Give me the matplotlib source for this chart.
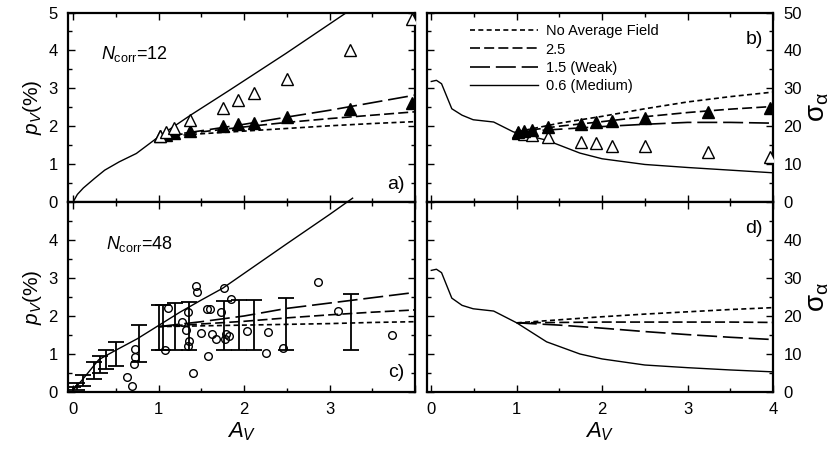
import numpy as np
import matplotlib
matplotlib.use("Agg")
import matplotlib.pyplot as plt
from matplotlib.ticker import MultipleLocator

plt.rcParams['font.family'] = ['Liberation Sans', 'DejaVu Sans']
plt.rcParams['mathtext.fontset'] = 'custom'
plt.rcParams['mathtext.rm'] = 'Liberation Sans'
plt.rcParams['mathtext.it'] = 'Liberation Sans:italic'

# ---- common model x grid (A_V) for the field-strength curves starting at A_V=1
x_model = [1.0, 1.5, 2.0, 2.5, 3.0, 3.5, 4.0]

# ---- panel a) N_corr=12, p_V(%)
a_solid_x = [0, 0.05, 0.12, 0.25, 0.37, 0.54, 0.74, 1.0, 1.38, 1.83, 2.49, 3.2]
a_solid_y = [0, 0.2, 0.37, 0.62, 0.84, 1.06, 1.28, 1.72, 2.3, 2.95, 3.92, 5.0]
a_noavg = [1.72, 1.80, 1.87, 1.94, 2.01, 2.07, 2.12]
a_25 = [1.72, 1.85, 1.98, 2.10, 2.20, 2.29, 2.38]
a_15 = [1.72, 1.88, 2.05, 2.24, 2.42, 2.62, 2.82]
tri_x = [1.02, 1.09, 1.18, 1.37, 1.75, 1.93, 2.12, 2.50, 3.24, 3.97]
a_open = [1.74, 1.85, 1.96, 2.16, 2.49, 2.70, 2.88, 3.25, 4.02, 4.84]
a_fill = [1.74, 1.78, 1.81, 1.87, 2.00, 2.05, 2.09, 2.25, 2.45, 2.60]

# ---- panel b) N_corr=12, sigma_alpha
b_solid_x = [0, 0.06, 0.12, 0.2, 0.24, 0.36, 0.49, 0.73, 0.96, 1.35, 1.74, 2.0, 2.5, 3.0, 3.5, 4.0]
b_solid_y = [31.8, 32.1, 31.2, 26.8, 24.6, 22.9, 21.7, 21.1, 18.5, 16.3, 12.9, 11.4, 9.9, 9.1, 8.4, 7.7]
b_noavg = [18.5, 20.8, 22.6, 24.6, 26.4, 27.8, 29.0]
b_25 = [18.5, 20.0, 21.2, 22.5, 23.6, 24.5, 25.2]
b_15 = [18.5, 19.2, 19.9, 20.5, 21.0, 21.0, 20.8]
b_open = [18.3, 18.0, 17.6, 17.2, 15.9, 15.6, 14.8, 14.8, 13.2, 11.9]
b_fill = [18.5, 18.8, 19.0, 19.8, 20.7, 21.2, 21.5, 22.1, 23.8, 24.9]

# ---- panel c) N_corr=48, p_V(%)
c_solid_x = [0, 0.1, 0.3, 0.5, 0.75, 1.0, 1.25, 1.5, 1.75, 2.0, 2.5, 3.0, 3.27]
c_solid_y = [0.05, 0.3, 0.85, 1.1, 1.4, 1.75, 2.1, 2.42, 2.73, 3.12, 3.9, 4.67, 5.1]
c_noavg = [1.72, 1.74, 1.76, 1.78, 1.80, 1.83, 1.85]
c_25 = [1.72, 1.79, 1.86, 1.95, 2.03, 2.10, 2.16]
c_15 = [1.72, 1.85, 2.0, 2.2, 2.34, 2.48, 2.62]
obs_x = [1.44, 1.45, 1.76, 2.86, 1.11, 1.34, 1.57, 1.60, 1.73, 1.85, 3.10, 1.27,
         1.32, 1.50, 1.63, 1.67, 1.79, 1.82, 1.78, 2.03, 2.28, 3.73, 1.36, 1.34,
         1.07, 2.45, 2.26, 1.58, 1.40, 0.72, 0.72, 0.71, 0.63, 0.69]
obs_p = [2.80, 2.62, 2.73, 2.89, 2.22, 2.11, 2.18, 2.18, 2.11, 2.44, 2.13, 1.85,
         1.63, 1.54, 1.52, 1.39, 1.52, 1.47, 1.39, 1.60, 1.57, 1.50, 1.35, 1.22,
         1.10, 1.17, 1.02, 0.95, 0.49, 1.13, 0.91, 0.74, 0.39, 0.17]
bar_x = [0.0, 0.05, 0.12, 0.25, 0.32, 0.38, 0.5, 0.77, 1.01, 1.05, 1.19, 1.36,
         1.76, 1.94, 2.12, 2.49, 3.25]
bar_lo = [0.0, 0.05, 0.15, 0.35, 0.5, 0.6, 0.68, 0.8, 1.1, 1.1, 1.1, 1.1,
          1.1, 1.1, 1.1, 1.1, 1.1]
bar_hi = [0.12, 0.25, 0.45, 0.8, 0.95, 1.1, 1.32, 1.75, 2.3, 2.3, 2.33, 2.36,
          2.4, 2.42, 2.43, 2.48, 2.57]

# ---- panel d) N_corr=48, sigma_alpha
d_solid_x = [0, 0.06, 0.12, 0.24, 0.36, 0.49, 0.73, 1.0, 1.35, 1.74, 2.0, 2.5, 3.0, 3.5, 4.0]
d_solid_y = [32.0, 32.3, 31.4, 24.7, 22.8, 21.9, 21.3, 18.2, 13.2, 10.0, 8.7, 7.1, 6.4, 5.8, 5.3]
d_noavg = [18.2, 19.0, 19.8, 20.5, 21.1, 21.7, 22.2]
d_25 = [18.2, 18.3, 18.4, 18.4, 18.4, 18.4, 18.3]
d_15 = [18.2, 17.6, 16.8, 15.9, 15.1, 14.4, 13.8]

lw = 1.2
st_dot = (0, (3, 2))
st_dash = (0, (6, 2.5))
st_long = (0, (12, 3.5))

fig = plt.figure(figsize=(8.30, 4.58), dpi=100)
x0l, x1l = 0.0819, 0.5
x0r, x1r = 0.5145, 0.9313
yb, ym, yt = 0.1441, 0.559, 0.9727
ax_a = fig.add_axes([x0l, ym, x1l - x0l, yt - ym])
ax_b = fig.add_axes([x0r, ym, x1r - x0r, yt - ym])
ax_c = fig.add_axes([x0l, yb, x1l - x0l, ym - yb])
ax_d = fig.add_axes([x0r, yb, x1r - x0r, ym - yb])


def curves(ax, sx, sy, noavg, f25, f15, labels=False, clip=True):
    ax.plot(x_model, noavg, color='black', lw=lw, linestyle=st_dot,
            label='No Average Field' if labels else None)
    ax.plot(x_model, f25, color='black', lw=lw, linestyle=st_dash,
            label='2.5' if labels else None)
    ax.plot(x_model, f15, color='black', lw=lw, linestyle=st_long,
            label='1.5 (Weak)' if labels else None)
    ax.plot(sx, sy, color='black', lw=1.0, clip_on=clip,
            label='0.6 (Medium)' if labels else None)


curves(ax_a, a_solid_x, a_solid_y, a_noavg, a_25, a_15)
ax_a.plot(tri_x, a_fill, '^', color='black', ms=8, zorder=4)
ax_a.plot(tri_x, a_open, '^', mfc='white', mec='black', mew=1.0, ms=8, zorder=5)

curves(ax_b, b_solid_x, b_solid_y, b_noavg, b_25, b_15, labels=True)
ax_b.plot(tri_x, b_open, '^', mfc='white', mec='black', mew=1.0, ms=8, zorder=4)
ax_b.plot(tri_x, b_fill, '^', color='black', ms=8, zorder=5)

curves(ax_c, c_solid_x, c_solid_y, c_noavg, c_25, c_15, clip=False)
bar_mid = (np.array(bar_lo) + np.array(bar_hi)) / 2
bar_err = (np.array(bar_hi) - np.array(bar_lo)) / 2
ax_c.errorbar(bar_x, bar_mid, yerr=bar_err, fmt='none', ecolor='black',
              elinewidth=1.3, capsize=6, capthick=1.3)
ax_c.plot(obs_x, obs_p, 'o', mfc='none', mec='black', mew=1.0, ms=5.5)

curves(ax_d, d_solid_x, d_solid_y, d_noavg, d_25, d_15)

for ax in (ax_a, ax_c):
    ax.set_xlim(-0.06, 4.0)
    ax.set_ylim(0, 5)
    ax.yaxis.set_minor_locator(MultipleLocator(0.5))
    ax.set_ylabel(r'$p_V$(%)', fontsize=15, labelpad=3)
for ax in (ax_b, ax_d):
    ax.set_xlim(-0.05, 4.0)
    ax.set_ylim(0, 50)
    ax.yaxis.set_minor_locator(MultipleLocator(5))
    ax.yaxis.set_label_position('right')
    ax.set_ylabel(r'$\mathrm{σ}_{\mathrm{α}}$', fontsize=20, rotation=90, labelpad=2)

for ax in (ax_a, ax_b, ax_c, ax_d):
    ax.xaxis.set_minor_locator(MultipleLocator(0.5))
    ax.tick_params(which='both', direction='in', top=True, bottom=True,
                   left=True, right=True, labelsize=12, width=1.0, pad=7.5)
    ax.tick_params(which='major', length=5)
    ax.tick_params(which='minor', length=3)
    for s in ax.spines.values():
        s.set_linewidth(1.6)

ax_a.set_xticks([0, 1, 2, 3, 4])
ax_a.tick_params(labelbottom=False)
ax_b.set_xticks([0, 1, 2, 3, 4])
ax_b.tick_params(labelbottom=False)
ax_a.set_yticks([0, 1, 2, 3, 4, 5])
ax_c.set_yticks([0, 1, 2, 3, 4, 5])
ax_c.set_yticklabels(['0', '1', '2', '3', '4', ''])
ax_c.set_xticks([0, 1, 2, 3, 4])
ax_c.set_xticklabels(['0', '1', '2', '3', ''])
ax_d.set_xticks([0, 1, 2, 3, 4])
ax_b.set_yticks([0, 10, 20, 30, 40, 50])
ax_d.set_yticks([0, 10, 20, 30, 40, 50])
ax_d.set_yticklabels(['0', '10', '20', '30', '40', ''])
for ax in (ax_b, ax_d):
    ax.tick_params(axis='y', labelleft=False, labelright=True)
for ax in (ax_c, ax_d):
    ax.set_xlabel(r'$A_V$', fontsize=16, labelpad=2)

ax_a.text(0.33, 3.9, r'$N_{\mathrm{corr}}$=12', fontsize=13, va='center', ha='left')
ax_c.text(0.38, 3.9, r'$N_{\mathrm{corr}}$=48', fontsize=13, va='center', ha='left')
ax_a.text(3.88, 0.45, 'a)', fontsize=14, ha='right', va='center')
ax_b.text(3.88, 43, 'b)', fontsize=14, ha='right', va='center')
ax_c.text(3.88, 0.5, 'c)', fontsize=14, ha='right', va='center')
ax_d.text(3.88, 43, 'd)', fontsize=14, ha='right', va='center')

ax_b.legend(loc='upper left', bbox_to_anchor=(0.09, 1.0), frameon=False,
            fontsize=10.5, handlelength=4.7, handletextpad=0.5,
            labelspacing=0.3, borderaxespad=0.4)

fig.savefig('out.png', dpi=100)
